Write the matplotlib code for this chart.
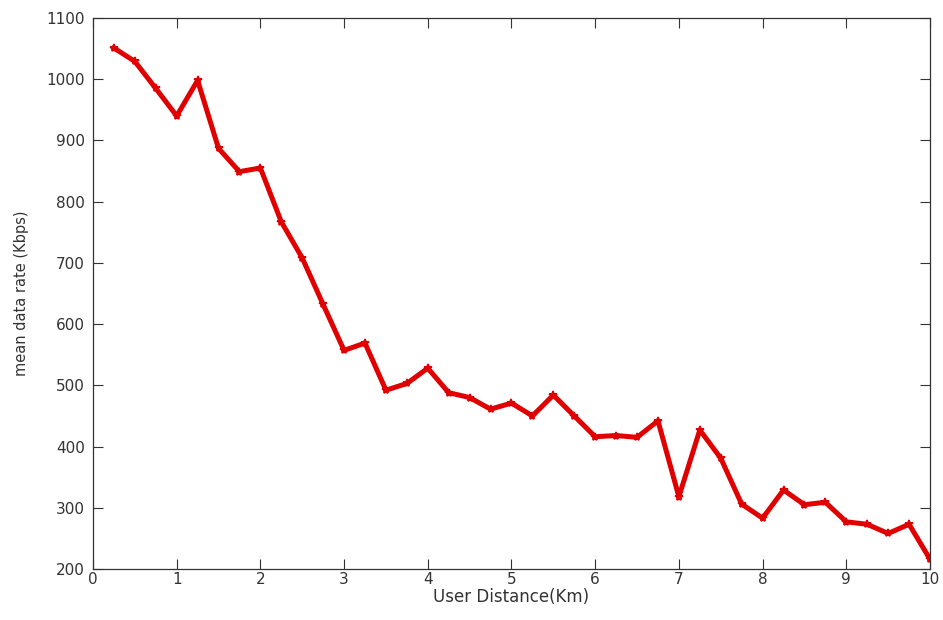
import matplotlib
matplotlib.use("Agg")
import matplotlib.pyplot as plt

plt.rcParams['font.family'] = ['DejaVu Sans']

# User distance (km) and measured mean data rate (Kbps)
distance_km = [0.25, 0.5, 0.75, 1.0, 1.25, 1.5, 1.75, 2.0, 2.25, 2.5,
               2.75, 3.0, 3.25, 3.5, 3.75, 4.0, 4.25, 4.5, 4.75, 5.0,
               5.25, 5.5, 5.75, 6.0, 6.25, 6.5, 6.75, 7.0, 7.25, 7.5,
               7.75, 8.0, 8.25, 8.5, 8.75, 9.0, 9.25, 9.5, 9.75, 10.0]
mean_rate_kbps = [1051, 1029, 985, 940, 998, 887, 849, 855, 767, 708,
                  632, 557, 569, 492, 503, 528, 488, 480, 461, 471,
                  450, 484, 450, 416, 418, 415, 442, 318, 427, 381,
                  306, 283, 329, 305, 309, 277, 273, 258, 273, 216]

x_ticks = list(range(0, 11))
y_ticks = list(range(200, 1101, 100))

fig = plt.figure(figsize=(9.43, 6.20), dpi=100)
ax = fig.add_axes([0.0986, 0.0823, 0.8876, 0.8887])

ax.plot(distance_km, mean_rate_kbps, color='#e00000', linewidth=3.6,
        marker='*', markersize=6, markeredgewidth=1.2, solid_joinstyle='round')

ax.set_xlim(0, 10)
ax.set_ylim(200, 1100)
ax.set_xticks(x_ticks)
ax.set_yticks(y_ticks)
ax.tick_params(direction='in', length=7, width=0.8, top=True, right=True,
               labelsize=11, colors='#333333')
ax.tick_params(axis='x', pad=2)
ax.tick_params(axis='y', pad=6)
for s in ax.spines.values():
    s.set_linewidth(0.9)
    s.set_color('#333333')

ax.set_xlabel('User Distance(Km)', fontsize=12, color='#333333', labelpad=1)
ax.set_ylabel('mean data rate (Kbps)', fontsize=10.5, color='#333333', labelpad=12)

fig.savefig('out.png', dpi=100)
